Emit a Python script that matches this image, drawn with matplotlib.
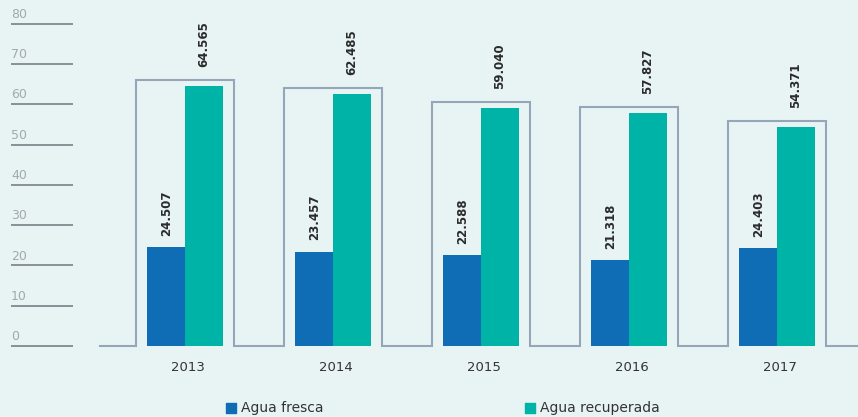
import numpy as np
import matplotlib.pyplot as plt

# data
years = ['2013', '2014', '2015', '2016', '2017']
agua_fresca = [24.507, 23.457, 22.588, 21.318, 24.403]
agua_recuperada = [64.565, 62.485, 59.040, 57.827, 54.371]
yticks = [0, 10, 20, 30, 40, 50, 60, 70, 80]

blue = '#0f6db5'
teal = '#00b3a7'
bg = '#e8f4f4'
outline = '#94a6b8'

fig = plt.figure(figsize=(8.58, 4.17), dpi=100, facecolor=bg)
ax = fig.add_axes([0, 0, 1, 1])
ax.set_facecolor(bg)
ax.set_xlim(-1.25, 4.547)
ax.set_ylim(-17.6, 85.86)
ax.axis('off')

x = np.arange(len(years))
w = 0.255

# short tick lines on the left with labels above
for t in yticks:
    ax.hlines(t, -1.176, -0.757, color='#8a9097', lw=1.4)
    ax.annotate(str(t), (-1.176, t), xytext=(0, 2), textcoords='offset points',
                ha='left', va='bottom', fontsize=9, color='#a3a8ad')

# step outline around each group
box_half = 0.328
pad = 1.5
xs = [-0.574]
ys = [0]
for i in range(len(years)):
    top = max(agua_fresca[i], agua_recuperada[i]) + pad
    xs += [x[i] - box_half, x[i] - box_half, x[i] + box_half, x[i] + box_half]
    ys += [0, top, top, 0]
xs.append(4.6)
ys.append(0)
ax.plot(xs, ys, color=outline, lw=1.5, solid_joinstyle='miter', zorder=1)

ax.bar(x - w / 2, agua_fresca, w, color=blue, zorder=2)
ax.bar(x + w / 2, agua_recuperada, w, color=teal, zorder=2)

def fmt(v):
    return f'{v:.3f}'

for i in range(len(years)):
    ax.annotate(fmt(agua_fresca[i]), (x[i] - w / 2, agua_fresca[i]), xytext=(0, 8),
                textcoords='offset points', rotation=90, ha='center', va='bottom',
                fontsize=8.5, fontweight='bold', color='#2b2b2b')
    top = max(agua_fresca[i], agua_recuperada[i]) + pad
    ax.annotate(fmt(agua_recuperada[i]), (x[i] + w / 2, top), xytext=(0, 9.5),
                textcoords='offset points', rotation=90, ha='center', va='bottom',
                fontsize=8.5, fontweight='bold', color='#2b2b2b')
    ax.text(x[i] + 0.02, -5.3, years[i], ha='center', va='center',
            fontsize=9.5, color='#333333')

# legend
ax.scatter([(231 - 185) / 148], [-15.4], marker='s', s=42, color=blue)
ax.text((241 - 185) / 148, -15.4, 'Agua fresca', va='center', ha='left',
        fontsize=10, color='#333333')
ax.scatter([(530 - 185) / 148], [-15.4], marker='s', s=42, color=teal)
ax.text((540 - 185) / 148, -15.4, 'Agua recuperada', va='center', ha='left',
        fontsize=10, color='#333333')

fig.savefig('out.png', dpi=100, facecolor=bg)
